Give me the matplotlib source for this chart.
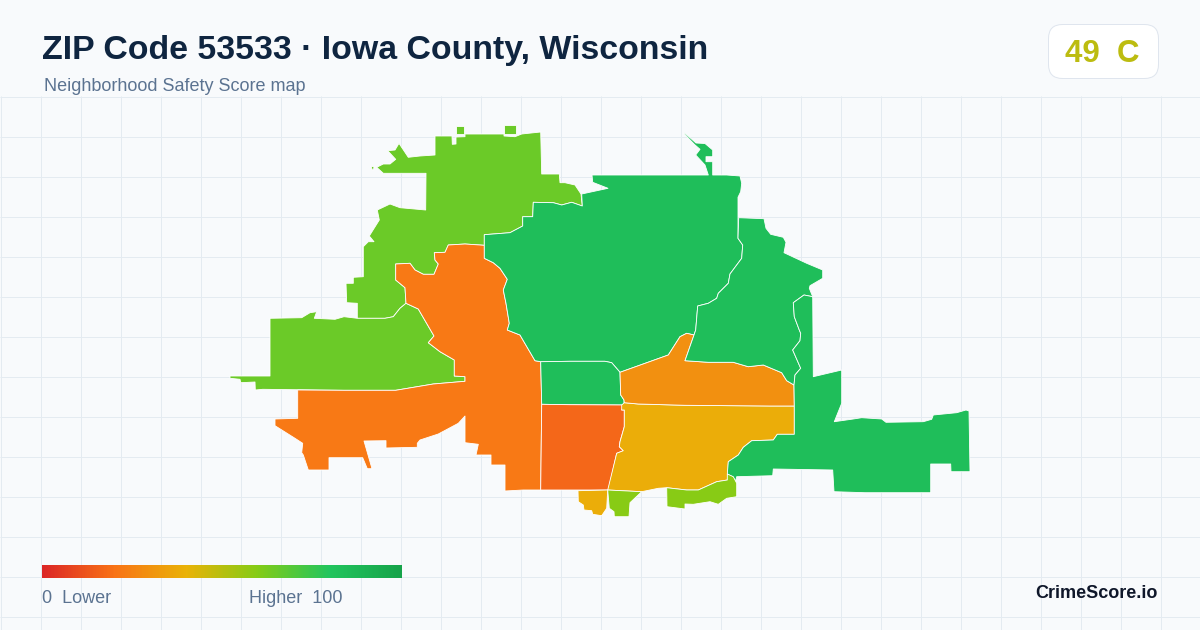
import numpy as np
import matplotlib
matplotlib.use('Agg')
import matplotlib.pyplot as plt
from matplotlib.colors import LinearSegmentedColormap
from matplotlib.patches import Polygon, FancyBboxPatch

plt.rcParams['font.family'] = ['Liberation Sans', 'DejaVu Sans']

title = 'ZIP Code 53533 · Iowa County, Wisconsin'
subtitle = 'Neighborhood Safety Score map'
badge_score = 49
badge_grade = 'C'
brand = 'CrimeScore.io'

# tract outlines in image pixels
nw_lime = [(435,136),(452,136),(452.3,144.3),(456,144),(456,137),(465,136.7),(465,134),(504,134),(504,136),
    (515,136.7),(521.7,134),(540.7,132),(541.7,174),(559.3,174),(560,182.7),(565,182.7),(575,185),(581,194),
    (582.3,206),(571.7,202.3),(561.7,205),(553.3,202.7),(533.3,202.3),(532.7,216.7),(522.7,216.7),(522.7,226),
    (510,232.7),(484.3,234.7),(484.3,245.3),(465,244),(448.3,245),(445,252.3),(434.3,252.7),(435,260),(438.3,264),
    (434,274.3),(423.3,274.3),(415,270),(410,263.3),(395.7,264),(395.7,280),(405,287.7),(406,303.3),(400,308.3),
    (393.3,316.7),(385,318.3),(357.3,318.3),(357.3,303.3),(346.7,302.7),(346,283.3),(353.3,283.3),(353.3,277.3),
    (363.3,276.7),(363.3,246.7),(368.3,241.7),(374,241.7),(369.3,236),(379.3,220),(377.3,210),(390,204),(400,207.7),
    (425.7,210),(426,173.3),(404,173.3),(383.3,173.3),(376.7,167.3),(383.3,164),(390,164),(395.7,159.3),(387.7,150.7),
    (395,150),(399,143.3),(408.3,157.3),(420,156),(435,155)]
nw_island_a = [(456,126),(463.7,126),(463.7,134),(456,134)]
nw_island_b = [(504,125),(516,125),(516,134),(504,134)]
nw_speck = [(371,166.5),(374,166.5),(373.5,170),(372.5,170)]
sw_lime = [(270,318.3),(301.7,317.7),(310,312.7),(316.7,311.7),(314.3,318.3),(335,319.3),(344,316.7),(357.3,318.3),
    (385,318.3),(393.3,316.7),(400,308.3),(406,303.3),(418.3,309),(434,336),(428.3,342.7),(440,351.7),(454.3,360),
    (454.3,376),(465,376.7),(465,381.3),(433.3,384),(395.7,390.3),(344,390.3),(262.7,389.3),(255.3,390),(255,382),
    (240.7,382.7),(240,379.3),(230,378.3),(230,376),(270,376)]
big_orange = [(484.3,245.3),(484.3,258.3),(493.3,262.7),(500,268.3),(507.3,279.3),(503.3,290),(506,303.3),(509.3,323.3),
    (507.3,330),(520,335),(531.7,355),(535,360.7),(540.7,361.7),(541.7,404.3),(540.7,490),(523.3,490),(505,491),
    (505,465),(491,465),(491,455),(476,455),(478.3,444.3),(465,442.7),(465,416),(458.3,423.3),(438.3,434),(420,440),
    (417.3,443.3),(417.3,447.3),(386,448),(386,440.7),(364,441),(372,468.7),(367.3,468.7),(362.7,457.7),(329,457.7),
    (329,470),(308.3,470),(303.3,455),(301.7,452.7),(302.7,443.3),(295,438.3),(275,425.7),(275,419),(297.7,418.3),
    (297.7,390),(344,390.3),(395.7,390.3),(433.3,384),(465,381.3),(465,376.7),(454.3,376),(454.3,360),(440,351.7),
    (428.3,342.7),(434,336),(418.3,309),(406,303.3),(405,287.7),(395.7,280),(395.7,264),(410,263.3),(415,270),
    (423.3,274.3),(434,274.3),(438.3,264),(435,260),(434.3,252.7),(445,252.3),(448.3,245),(465,244)]
big_green = [(592,175),(708.3,175),(705,165),(695.7,155),(700,149.3),(694.5,144.5),(684,133.5),(684.6,132.8),(696,143),
    (705,143.5),(712.7,150),(712.7,156.7),(706,156.7),(706,161.7),(712.7,161.7),(712.7,175),(726.7,175),(740,176),
    (741.7,183.3),(740.7,191.7),(738,197.3),(738,238.3),(742.7,245),(741.7,258.3),(730,274),(728.3,283.3),(718.3,293.3),
    (716.7,298.3),(708.3,303.3),(697.7,306),(695.7,330),(694,335),(686.7,333.3),(680,336.7),(668.3,355),(620,372.3),
    (611.7,362.7),(605,361.3),(570,361.3),(540.7,361.7),(535,360.7),(531.7,355),(520,335),(507.3,330),(509.3,323.3),
    (506,303.3),(503.3,290),(507.3,279.3),(500,268.3),(493.3,262.7),(484.3,258.3),(484.3,245.3),(484.3,234.7),(510,232.7),
    (522.7,226),(522.7,216.7),(532.7,216.7),(533.3,202.3),(553.3,202.7),(561.7,205),(571.7,202.3),(582.3,206),(581.7,194),
    (608,188.3),(592.7,182.3)]
mid_green = [(540.7,361.7),(570,361.3),(605,361.3),(611.7,362.7),(620,372.3),(620.7,395),(624,400),(624,405),(570,404.7),(541.7,404.3)]
deep_orange = [(541.7,404.3),(570,404.7),(624,405),(621.7,410),(624.3,410),(624.3,426.7),(620,441.7),(619.3,446.7),
    (623.3,450.7),(616.7,453.3),(608.3,490),(540.7,490)]
amber = [(624.3,402.7),(638.3,404),(685,405.3),(770,406),(794.3,406),(794.3,434.3),(777.3,434.3),(773.3,440),(751.7,440.7),
    (743.3,447.3),(738.3,455),(728.3,461.7),(727.3,480),(716.7,481.7),(698.3,490),(686.7,490),(666.7,487.7),(658.3,488.3),
    (641.7,491.7),(607.7,490),(616.7,453.3),(623.3,450.7),(619.3,446.7),(620,441.7),(624.3,426.7),(624.3,410),(621.7,410),(621.7,405)]
dark_amber = [(620,372.3),(668.3,355),(680,336.7),(686.7,333.3),(694,335),(685,360.7),(708.3,362.3),(733.3,362.3),(748.3,366.7),
    (763.3,365),(781.7,372.7),(786.7,380.7),(794,385),(794.3,406),(770,406),(685,405.3),(638.3,404),(624.3,402.7),(624,400),(620.7,395)]
ne_green = [(738.7,217.7),(764,218.7),(766,228.3),(770.7,234.3),(783.3,237.3),(786,242.3),(784,252.7),(806.7,263.3),(822.7,270),
    (822.7,278.3),(810,285.7),(809.3,288.3),(812.7,296.7),(804,295),(793.3,302.7),(794.3,316.7),(799.3,330),(800.7,333.3),
    (800,340.7),(792.7,350),(800.7,368.3),(795,375),(794,385),(786.7,380.7),(781.7,372.7),(763.3,365),(748.3,366.7),
    (733.3,362.3),(708.3,362.3),(685,360.7),(694,335),(695.7,330),(697.7,306),(708.3,303.3),(716.7,298.3),(718.3,293.3),
    (728.3,283.3),(730,274),(741.7,258.3),(742.7,245),(738,238.3)]
se_green = [(812.7,296.7),(813.3,376.7),(841.7,370),(841.7,403.3),(838.3,411.7),(834.3,421.7),(853.3,419),(861.7,417.7),(881.7,419),
    (886,422.3),(923.3,421.7),(931.7,419.3),(933.3,415),(956.7,412.7),(966,410),(969,411),(970,471.7),(951,471.7),(950.7,464),
    (930.7,464),(930.7,492.7),(865,492.7),(834,491.7),(832.7,470),(773.3,469),(772.7,475.7),(736.7,476.7),(735.7,481),(732.7,476.7),
    (727.3,474),(728.3,461.7),(738.3,455),(743.3,447.3),(751.7,440.7),(773.3,440),(777.3,434.3),(794.3,434.3),(794.3,406),(794,385),
    (795,375),(800.7,368.3),(792.7,350),(800,340.7),(800.7,333.3),(799.3,330),(794.3,316.7),(793.3,302.7),(804,295)]
se_strip = [(666.7,487.7),(686.7,490),(698.3,490),(716.7,481.7),(727.3,480),(727.3,474),(733.3,476.7),(736.7,483.3),(736.7,496.7),
    (726.7,498.3),(718.3,504.3),(710,501.7),(693.3,504.3),(685,504),(685,509),(667,506.7)]
s_lime = [(607.7,490),(641.7,491.7),(630,502.7),(629,516.7),(614.3,516.7),(614,511.7),(609.3,508.3)]
s_amber = [(578,490.7),(607.7,490),(606.7,508.3),(601.7,515.7),(592.7,514.3),(591.7,510.7),(584,510),(583.3,505),(578.3,501.7)]

tracts = [nw_lime, nw_island_a, nw_island_b, nw_speck, sw_lime, big_orange, big_green, mid_green, deep_orange,
          amber, dark_amber, ne_green, se_green, se_strip, s_lime, s_amber]
scores = [65, 65, 65, 65, 65, 22, 84, 84, 17, 38, 29, 84, 84, 59, 59, 38]

score_stops = [0, 20, 40, 60, 80, 100]
stop_colors = ['#dc2626', '#f97316', '#eab308', '#84cc16', '#22c55e', '#16a34a']

cmap = LinearSegmentedColormap.from_list('safety', [(s / 100, c) for s, c in zip(score_stops, stop_colors)])

fig = plt.figure(figsize=(12, 6.3), dpi=100, facecolor='#f8fafc')
ax = fig.add_axes([0, 0, 1, 1])
ax.set_axis_off()

# background grid, starts under the header
ax.vlines(np.arange(0, 1200, 40) + 0.5, 96, 630, color='#e4ebf1', lw=0.72, zorder=1)
ax.hlines(np.arange(96, 630, 40) + 0.5, 0, 1200, color='#e4ebf1', lw=0.72, zorder=1)

for outline, score in zip(tracts, scores):
    ax.add_patch(Polygon(outline, closed=True, facecolor=cmap(score / 100), edgecolor='#ffffff',
                         lw=0.6, joinstyle='round', zorder=2))

ax.imshow(np.linspace(0, 1, 360).reshape(1, -1), cmap=cmap, extent=(42, 402, 578, 565), aspect='auto', zorder=3)

ax.set_xlim(0, 1200)
ax.set_ylim(630, 0)

ax.text(42, 59.5, title, fontsize=24.4, fontweight='bold', color='#0f2540', va='baseline', zorder=4)
ax.text(44, 91, subtitle, fontsize=12.96, color='#5b7391', va='baseline', zorder=4)

ax.add_patch(FancyBboxPatch((1062.5, 38.5), 82, 26, boxstyle='round,pad=14,rounding_size=14',
                            facecolor='#ffffff', edgecolor='#dfe5ee', lw=0.72, zorder=3))
ax.text(1102.5, 62, f'{badge_score}  {badge_grade}', fontsize=22.5, fontweight='bold', color='#bcbc10',
        ha='center', va='baseline', zorder=4)

ax.text(42, 603, '0  Lower', fontsize=12.96, color='#5b7391', va='baseline', zorder=4)
ax.text(249, 603, 'Higher  100', fontsize=12.96, color='#5b7391', va='baseline', zorder=4)
ax.text(1158, 598, brand, fontsize=13, fontweight='bold', color='#0f172a', ha='right', va='baseline', zorder=4)

fig.savefig('out.png', dpi=100, facecolor=fig.get_facecolor())
